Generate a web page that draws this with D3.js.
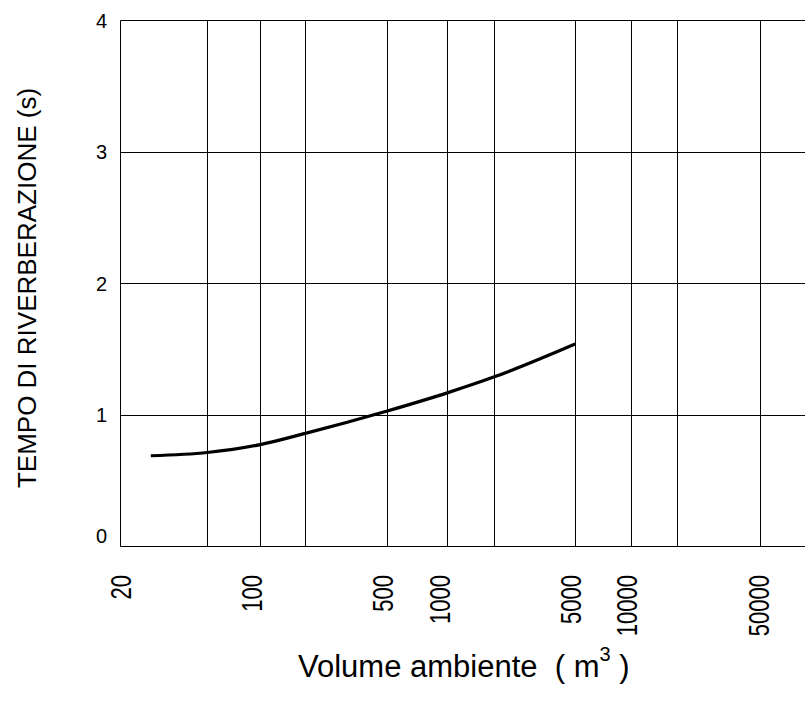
<!DOCTYPE html>
<html>
<head>
<meta charset="utf-8">
<script src="https://cdn.jsdelivr.net/npm/d3@7"></script>
<style>
  html, body { margin: 0; padding: 0; background: #fff; overflow: hidden; }
  svg { display: block; font-family: "Liberation Sans", Arial, sans-serif; }
</style>
</head>
<body>
<svg id="chart" width="805" height="717"></svg>
<script>
// ---- data ----
const xGridValues = [58, 111, 193, 527, 1110, 1960, 5280, 10600, 18500, 51100];
const xTickLabels = [20, 100, 500, 1000, 5000, 10000, 50000];
const yTickValues = [0, 1, 2, 3, 4];
const volume = [29, 58, 111, 193, 527, 1110, 1960, 5280];
const reverbTime = [0.69, 0.715, 0.775, 0.86, 1.03, 1.17, 1.29, 1.54];
const yTitle = "TEMPO DI RIVERBERAZIONE (s)";
const xTitle = "Volume ambiente  ( m";

// ---- layout ----
const svg = d3.select("#chart");
const plotLeft = 120.5, plotRight = 815, plotTop = 20.5, plotBottom = 546.5;

const x = d3.scaleLog().domain([20, 100000]).range([plotLeft, plotRight]);
const y = d3.scaleLinear().domain([0, 4]).range([plotBottom, plotTop]);
const snap = v => Math.round(v - 0.5) + 0.5;

// horizontal grid lines
svg.append("g").selectAll("line").data(yTickValues).join("line")
  .attr("x1", plotLeft).attr("x2", plotRight)
  .attr("y1", d => snap(y(d))).attr("y2", d => snap(y(d)))
  .attr("stroke", "#000").attr("stroke-width", 1);

// vertical grid lines
svg.append("g").selectAll("line").data(xGridValues).join("line")
  .attr("x1", d => snap(x(d))).attr("x2", d => snap(x(d)))
  .attr("y1", plotTop).attr("y2", plotBottom)
  .attr("stroke", "#000").attr("stroke-width", 1);

// left frame
svg.append("line").attr("x1", plotLeft).attr("x2", plotLeft).attr("y1", plotTop).attr("y2", plotBottom)
  .attr("stroke", "#000").attr("stroke-width", 1);

// y tick labels
svg.append("g").selectAll("text").data(yTickValues).join("text")
  .attr("x", 107)
  .attr("y", d => Math.min(y(d), plotBottom - 11))
  .attr("text-anchor", "end")
  .attr("dominant-baseline", "central")
  .attr("font-size", 20)
  .attr("fill", "#000")
  .text(d => d);

// x tick labels (rotated, condensed)
svg.append("g").selectAll("text").data(xTickLabels).join("text")
  .attr("transform", d => `translate(${x(d)},575) rotate(-90) scale(0.76,1)`)
  .attr("text-anchor", "end")
  .attr("dominant-baseline", "central")
  .attr("font-size", 29)
  .attr("fill", "#000")
  .text(d => d);

// curve
const pts = volume.map((v, i) => [v, reverbTime[i]]);
const line = d3.line().x(d => x(d[0])).y(d => y(d[1])).curve(d3.curveMonotoneX);
svg.append("path").datum(pts)
  .attr("d", line)
  .attr("fill", "none")
  .attr("stroke", "#000")
  .attr("stroke-width", 3.2)
  .attr("stroke-linecap", "butt");

// y title
svg.append("text")
  .attr("transform", "translate(27,288) rotate(-90)")
  .attr("text-anchor", "middle")
  .attr("dominant-baseline", "central")
  .attr("font-size", 26)
  .attr("fill", "#000")
  .text(yTitle);

// x title
const xt = svg.append("text")
  .attr("x", 298).attr("y", 677)
  .attr("font-size", 31)
  .attr("fill", "#000")
  .style("white-space", "pre");
xt.append("tspan").text(xTitle);
xt.append("tspan").attr("font-size", 20).attr("dy", -16).text("3");
xt.append("tspan").attr("dy", 16).text(" )");
</script>
</body>
</html>
